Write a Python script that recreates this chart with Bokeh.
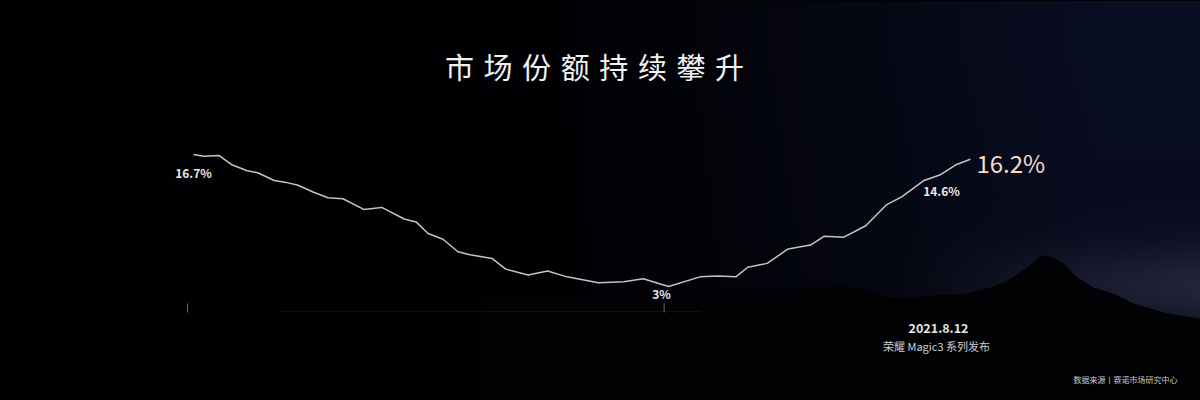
import numpy as np
from bokeh.plotting import figure
from bokeh.models import Range1d, ColumnDataSource
from bokeh.core.properties import value
from bokeh.embed import file_html
from bokeh.resources import INLINE

# ---------------- data ----------------
weeks = [0, 0.7, 1.7, 2.6, 3.6, 4.3, 5.4, 6.2, 7.0, 8.0, 9.0, 10.0, 11.4, 12.6,
         14.1, 14.9, 15.7, 16.7, 17.7, 18.5, 20.0, 20.9, 22.4, 23.7, 25.0, 27.1,
         28.8, 30.1, 31.8, 33.9, 35.1, 36.3, 37.1, 38.4, 39.8, 41.3, 42.2, 43.5,
         45.0, 46.4, 47.4, 48.9, 50.0, 51.0, 52.0]
share = [16.7, 16.5, 16.6, 15.6, 15.0, 14.8, 14.0, 13.8, 13.5, 12.8, 12.2, 12.1,
         11.0, 11.2, 10.0, 9.7, 8.5, 7.9, 6.6, 6.3, 5.9, 4.8, 4.2, 4.6, 4.0, 3.4,
         3.5, 3.8, 3.0, 4.0, 4.1, 4.0, 5.0, 5.4, 6.9, 7.3, 8.2, 8.1, 9.3, 11.5,
         12.3, 14.0, 14.6, 15.6, 16.2]
label_idx = [0, 28, 42]
label_txt = ["16.7%", "3%", "14.6%"]
end_label = "16.2%"
tick_weeks = [-0.4, 31.5]
title_text = "市场份额持续攀升"
event_date = "2021.8.12"
event_text = "荣耀 Magic3 系列发布"
source_text = "数据来源丨赛诺市场研究中心"

# ---------------- geometry helpers ----------------
W, H = 1200, 400
OX, OY = 0, 0                  # where the figure sits in the window
XS, YS = 14.94, 9.64           # px per week, px per percent
def sx(px):                    # window px -> data x
    return (px - 193) / XS
def sy(py):                    # window py -> data y
    return 3 + (286 - py) / YS

FONT = value("Noto Sans CJK SC")

p = figure(width=W, height=H, output_backend="svg", toolbar_location=None,
           x_range=Range1d(sx(OX), sx(OX + W)), y_range=Range1d(sy(OY + H), sy(OY)),
           min_border=0, background_fill_color="black", border_fill_color="black",
           outline_line_color=None)
p.axis.visible = False
p.grid.visible = False

# ---------------- background (night sky) ----------------
res = 2
nx, ny = W // res, H // res
pxs = OX + (np.arange(nx) + 0.5) * res
pys = OY + (np.arange(ny) + 0.5) * res
PX, PY = np.meshgrid(pxs, pys)
f = np.clip((PX - 480) / 620, 0, 1) ** 1.4
f = f * (0.8 + 0.2 * np.clip(1 - (PY - 40) / 300, 0, 1))
g = np.clip((PX - 900) / 300, 0, 1) * np.exp(-((PY - 285) / 40) ** 2)
r = 1 + 9 * f + 26 * g
gg = 1 + 13 * f + 26 * g
b = 3 + 32 * f + 26 * g
img = np.zeros((ny, nx), dtype=np.uint32)
view = img.view(dtype=np.uint8).reshape((ny, nx, 4))
view[:, :, 0] = np.clip(r, 0, 255).astype(np.uint8)
view[:, :, 1] = np.clip(gg, 0, 255).astype(np.uint8)
view[:, :, 2] = np.clip(b, 0, 255).astype(np.uint8)
view[:, :, 3] = 255
p.image_rgba(image=[img[::-1]], x=sx(OX), y=sy(OY + H), dw=sx(OX + W) - sx(OX),
             dh=sy(OY) - sy(OY + H))

mountain_px = [(480, 300), (700, 293), (800, 288), (840, 286), (863, 288), (887, 297),
               (913, 297), (933, 295), (967, 293), (990, 287), (1007, 280), (1027, 267),
               (1040, 255), (1053, 257), (1063, 263), (1077, 277), (1093, 287),
               (1113, 293), (1133, 303), (1167, 313), (1200, 318), (1200, 400), (480, 400)]
p.patch([sx(a) for a, _ in mountain_px], [sy(c) for _, c in mountain_px],
        fill_color="#020204", line_color=None)

# ---------------- baseline & ticks ----------------
p.segment(x0=[sx(280)], y0=[sy(311)], x1=[sx(700)], y1=[sy(311)],
          line_color="#0f0f0f", line_width=1)
p.segment(x0=tick_weeks, y0=[sy(303)] * 2, x1=tick_weeks, y1=[sy(312)] * 2,
          line_color="#6a6a6a", line_width=1)

# ---------------- line ----------------
src = ColumnDataSource(dict(x=weeks, y=share))
p.line("x", "y", source=src, line_color="#c4c4c4", line_width=1.5)

# ---------------- labels ----------------
offs = [(0, 18), (-7, 7), (1, 16)]
for i, t, (dx, dy) in zip(label_idx, label_txt, offs):
    p.text(x=[weeks[i]], y=[share[i]], text=[t], text_font=FONT,
           text_font_size="12px", text_font_style="bold", text_color="#e8e8e8",
           text_align="center", text_baseline="middle", x_offset=dx, y_offset=dy)

p.text(x=[weeks[-1]], y=[share[-1]], text=[end_label], text_font=FONT,
       text_font_size="24px", text_color="#f4dcc8", text_align="left",
       text_baseline="middle", x_offset=6, y_offset=3)

# ---------------- title ----------------
pitch = 38.6
for k, ch in enumerate(title_text):
    cx = 594 + (k - 3.5) * pitch
    p.text(x=[sx(cx)], y=[sy(65)], text=[ch], text_font=FONT,
           text_font_size="29px", text_color="#f2f2f2", text_align="center",
           text_baseline="middle")

# ---------------- event annotation ----------------
p.text(x=[sx(938)], y=[sy(327)], text=[event_date], text_font=FONT,
       text_font_size="12.5px", text_font_style="bold", text_color="#e6e6e6",
       text_align="center", text_baseline="middle")
p.text(x=[sx(936)], y=[sy(345)], text=[event_text], text_font=FONT,
       text_font_size="11px", text_color="#cfcfcf", text_align="center",
       text_baseline="middle")
p.text(x=[sx(1125)], y=[sy(379)], text=[source_text], text_font=FONT,
       text_font_size="8px", text_color="#c8c8c8", text_align="center",
       text_baseline="middle")

html = file_html(p, INLINE)
html = html.replace("</head>", "<style>html,body{background:#000;}</style></head>", 1)
open("out.html", "w").write(html)
